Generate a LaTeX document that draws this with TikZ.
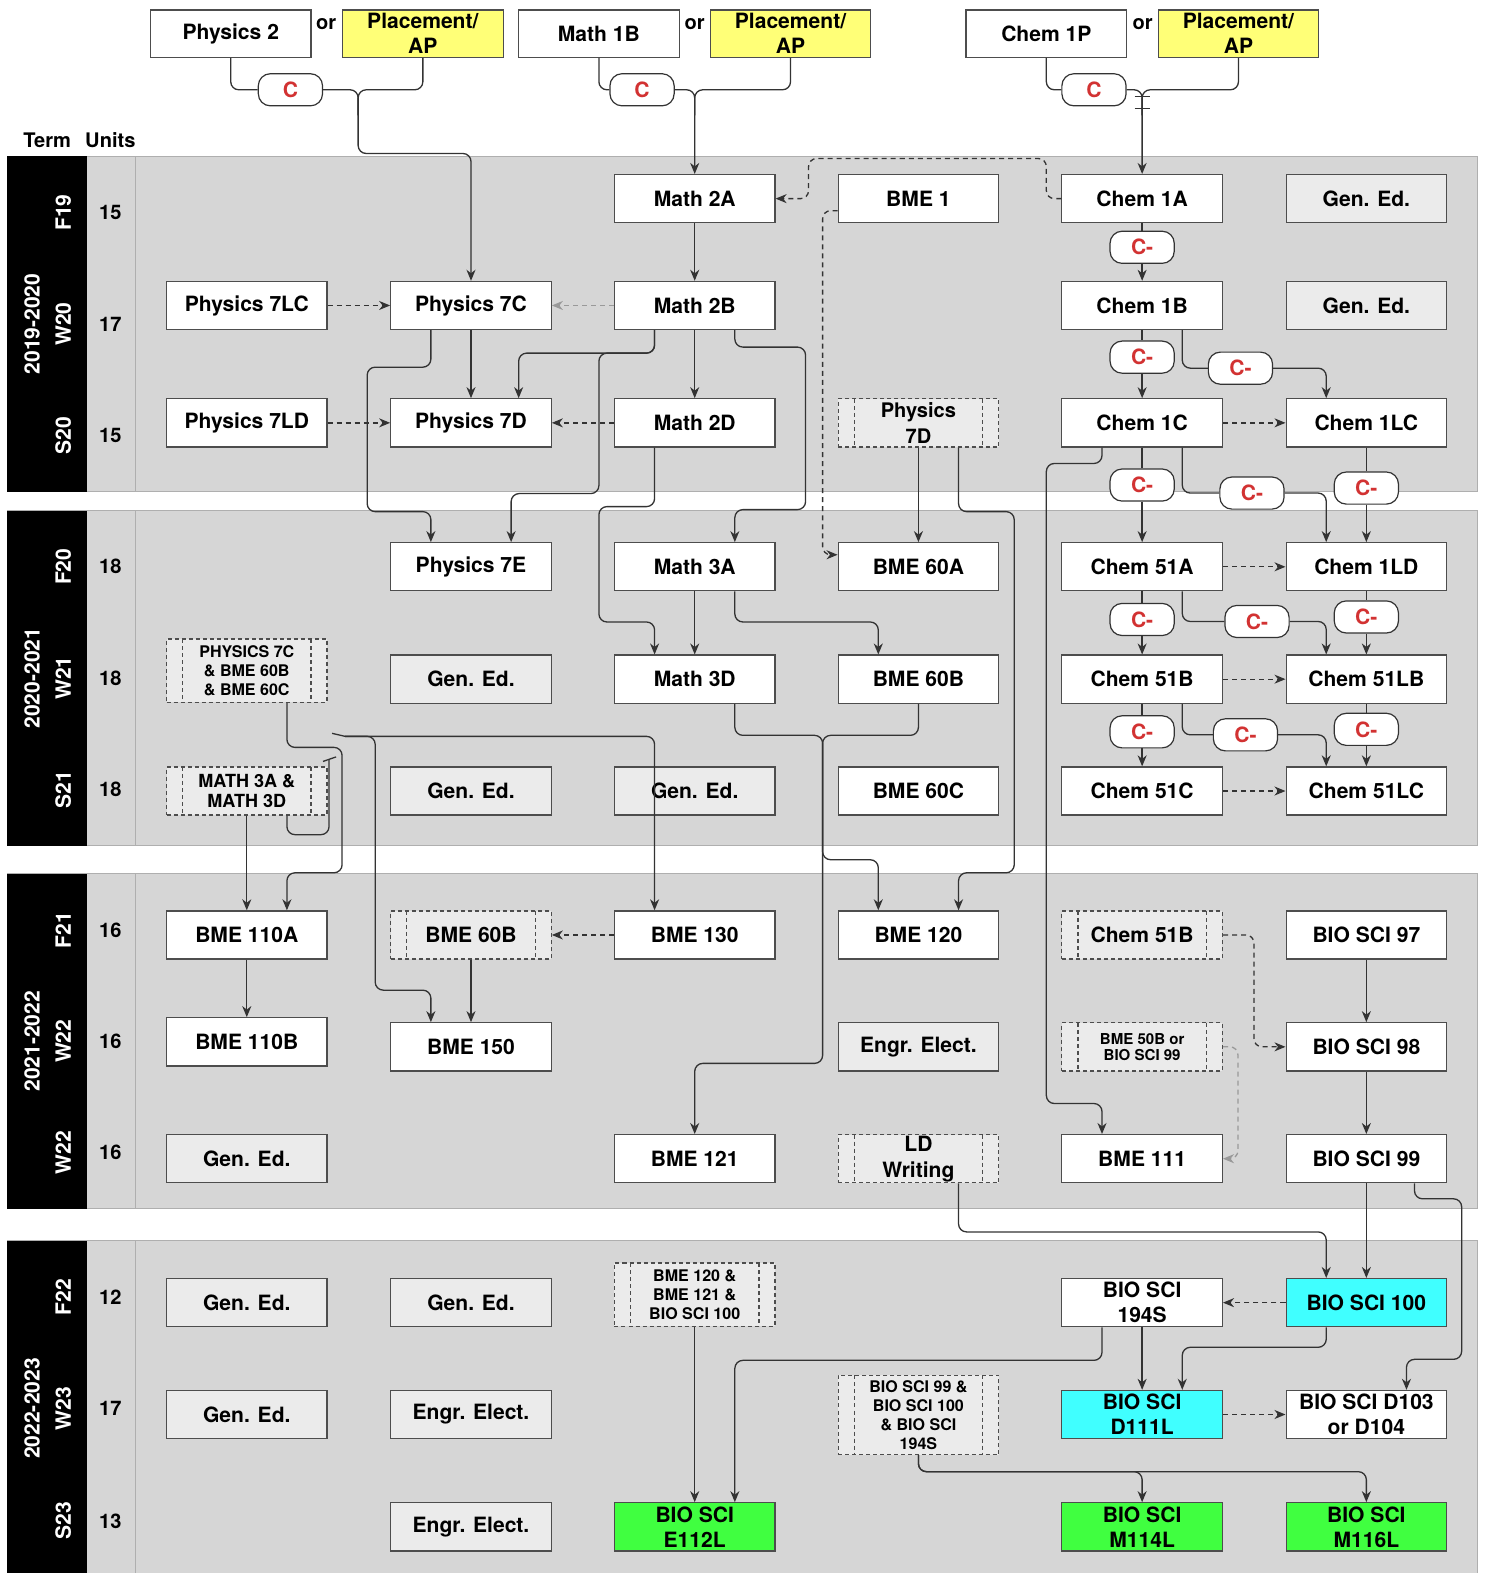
\documentclass[tikz,border=0pt]{standalone}
\usepackage{fontspec}
\setmainfont{TeX Gyre Heros}
\usetikzlibrary{arrows.meta}
\definecolor{bandgray}{HTML}{D6D6D6}
\definecolor{lightbox}{HTML}{EBEBEB}
\definecolor{bordergray}{HTML}{4D4D4D}
\definecolor{linegray}{HTML}{333333}
\definecolor{yel}{HTML}{FFFF77}
\definecolor{cyanbox}{HTML}{40FFFF}
\definecolor{greenbox}{HTML}{40FF40}
\definecolor{redtext}{HTML}{D23232}
\definecolor{bandline}{HTML}{AFAFAF}
\begin{document}
\begin{tikzpicture}[x=1pt,y=-1pt,
  box/.style={draw=bordergray,line width=1.2pt,fill=white,minimum width=160pt,minimum height=48pt,inner sep=0pt,align=center,font=\fontsize{21}{25}\selectfont\bfseries},
  genbox/.style={box,fill=lightbox},
  dbox/.style={box,fill=lightbox,dash pattern=on 4pt off 3pt,
    path picture={\draw[bordergray,line width=1.2pt,dash pattern=on 4pt off 3pt]
      ([xshift=16pt]path picture bounding box.north west) -- ([xshift=16pt]path picture bounding box.south west)
      ([xshift=-16pt]path picture bounding box.north east) -- ([xshift=-16pt]path picture bounding box.south east);}},
  pill/.style={draw=linegray,line width=1.2pt,fill=white,rounded corners=12pt,minimum width=64pt,minimum height=32pt,inner sep=0pt,text=redtext,font=\fontsize{21}{25}\selectfont\bfseries},
  lbl/.style={inner sep=0pt,font=\fontsize{20}{24}\selectfont\bfseries},
  term/.style={inner sep=0pt,text=white,rotate=90,font=\fontsize{21}{24}\selectfont\bfseries},
  ln/.style={draw=linegray,line width=1.3pt,rounded corners=8pt},
  arr/.style={-{Stealth[length=11pt,width=9pt,inset=3.5pt]}},
  dsh/.style={dash pattern=on 5pt off 4pt},
  gln/.style={draw=black!40,line width=1.3pt,rounded corners=8pt}
]
\useasboundingbox (0,0) rectangle (1480,1568);
\fill[white] (0,0) rectangle (1480,1568);

% bands
\foreach \t/\b in {156/490,509/843,871/1205,1237/1572}{
  \filldraw[fill=bandgray,draw=bandline,line width=1pt] (7,\t) rectangle (1473,\b);
  \fill[black] (7,\t) rectangle (87,\b);
  \draw[bandline,line width=1pt] (135,\t) -- (135,\b);
}
\node[lbl] (hterm) at (47,140) {Term};
\node[lbl] (hunits) at (110,140) {Units};

\node[term] (y1) at (32,323) {2019-2020};
\node[term] (y2) at (32,676) {2020-2021};
\node[term] (y3) at (32,1038) {2021-2022};
\node[term] (y4) at (32,1404) {2022-2023};

\node[term] (t1) at (63,212) {F19};
\node[term] (t2) at (63,323) {W20};
\node[term] (t3) at (63,434) {S20};
\node[term] (t4) at (63,565) {F20};
\node[term] (t5) at (63,676) {W21};
\node[term] (t6) at (63,787) {S21};
\node[term] (t7) at (63,927) {F21};
\node[term] (t8) at (63,1038) {W22};
\node[term] (t9) at (63,1149) {W22};
\node[term] (t10) at (63,1293) {F22};
\node[term] (t11) at (63,1404) {W23};
\node[term] (t12) at (63,1516) {S23};

\node[lbl] (u1) at (110,212) {15};
\node[lbl] (u2) at (110,323) {17};
\node[lbl] (u3) at (110,434) {15};
\node[lbl] (u4) at (110,565) {18};
\node[lbl] (u5) at (110,676) {18};
\node[lbl] (u6) at (110,787) {18};
\node[lbl] (u7) at (110,927) {16};
\node[lbl] (u8) at (110,1038) {16};
\node[lbl] (u9) at (110,1149) {16};
\node[lbl] (u10) at (110,1293) {12};
\node[lbl] (u11) at (110,1404) {17};
\node[lbl] (u12) at (110,1516) {13};

% top prerequisites
\node[box,minimum height=47pt] (phys2) at (230,33.5) {Physics 2};
\node[lbl] (or1) at (325,24) {or};
\node[box,fill=yel,minimum height=47pt] (yel1) at (421.5,33.5) {Placement/\\AP};
\node[box,minimum height=47pt] (math1b) at (597,33.5) {Math 1B};
\node[lbl] (or2) at (692.5,24) {or};
\node[box,fill=yel,minimum height=47pt] (yel2) at (788,33.5) {Placement/\\AP};
\node[box,minimum height=47pt] (chem1p) at (1043,33.5) {Chem 1P};
\node[lbl] (or3) at (1139,24) {or};
\node[box,fill=yel,minimum height=47pt] (yel3) at (1234.5,33.5) {Placement/\\AP};
\node[pill] (pa) at (289.5,89.5) {C};
\node[pill] (pb) at (640,89.5) {C};
\node[pill] (pc) at (1090.5,89.5) {C};

% row 1
\node[box] (m2a) at (692.5,198) {Math 2A};
\node[box] (bme1) at (915.5,198) {BME 1};
\node[box] (c1a) at (1138.5,198) {Chem 1A};
\node[genbox] (ge1) at (1362,198) {Gen. Ed.};
% row 2
\node[box] (p7lc) at (246,304.5) {Physics 7LC};
\node[box] (p7c) at (469.5,304.5) {Physics 7C};
\node[box] (m2b) at (692.5,304.5) {Math 2B};
\node[box] (c1b) at (1138.5,304.5) {Chem 1B};
\node[genbox] (ge2) at (1362,304.5) {Gen. Ed.};
% row 3
\node[box] (p7ld) at (246,421.5) {Physics 7LD};
\node[box] (p7d) at (469.5,421.5) {Physics 7D};
\node[box] (m2d) at (692.5,421.5) {Math 2D};
\node[dbox,font=\fontsize{20}{26}\selectfont\bfseries] (p7dd) at (915.5,421.5) {Physics\\7D};
\node[box] (c1c) at (1138.5,421.5) {Chem 1C};
\node[box] (c1lc) at (1362,421.5) {Chem 1LC};
% row 4
\node[box] (p7e) at (469.5,565) {Physics 7E};
\node[box] (m3a) at (692.5,565) {Math 3A};
\node[box] (b60a) at (915.5,565) {BME 60A};
\node[box] (c51a) at (1138.5,565) {Chem 51A};
\node[box] (c1ld) at (1362,565) {Chem 1LD};
% row 5
\node[dbox,minimum height=63pt,font=\fontsize{16}{19}\selectfont\bfseries] (pxd) at (246,668.5) {PHYSICS 7C\\\& BME 60B\\\& BME 60C};
\node[genbox] (ge3) at (469.5,677) {Gen. Ed.};
\node[box] (m3d) at (692.5,677) {Math 3D};
\node[box] (b60b) at (915.5,677) {BME 60B};
\node[box] (c51b) at (1138.5,677) {Chem 51B};
\node[box] (c51lb) at (1362,677) {Chem 51LB};
% row 6
\node[dbox,font=\fontsize{18}{20}\selectfont\bfseries] (m3ad) at (246,788.5) {MATH 3A \&\\MATH 3D};
\node[genbox] (ge4) at (469.5,788.5) {Gen. Ed.};
\node[genbox] (ge5) at (692.5,788.5) {Gen. Ed.};
\node[box] (b60c) at (915.5,788.5) {BME 60C};
\node[box] (c51c) at (1138.5,788.5) {Chem 51C};
\node[box] (c51lc) at (1362,788.5) {Chem 51LC};
% row 7
\node[box] (b110a) at (246,932) {BME 110A};
\node[dbox] (b60bd) at (469.5,932) {BME 60B};
\node[box] (b130) at (692.5,932) {BME 130};
\node[box] (b120) at (915.5,932) {BME 120};
\node[dbox] (c51bd) at (1138.5,932) {Chem 51B};
\node[box] (bs97) at (1362,932) {BIO SCI 97};
% row 8
\node[box] (b110b) at (246,1038.5) {BME 110B};
\node[box] (b150) at (469.5,1043.5) {BME 150};
\node[genbox] (ee1) at (915.5,1043.5) {Engr. Elect.};
\node[dbox,font=\fontsize{15}{16}\selectfont\bfseries] (b50d) at (1138.5,1043.5) {BME 50B or\\BIO SCI 99};
\node[box] (bs98) at (1362,1043.5) {BIO SCI 98};
% row 9
\node[genbox] (ge6) at (246,1155) {Gen. Ed.};
\node[box] (b121) at (692.5,1155) {BME 121};
\node[dbox,font=\fontsize{21}{26}\selectfont\bfseries] (ldw) at (915.5,1155) {LD\\Writing};
\node[box] (b111) at (1138.5,1155) {BME 111};
\node[box] (bs99) at (1362,1155) {BIO SCI 99};
% row 10
\node[genbox] (ge7) at (246,1298.5) {Gen. Ed.};
\node[genbox] (ge8) at (469.5,1298.5) {Gen. Ed.};
\node[dbox,minimum height=63pt,font=\fontsize{16}{19}\selectfont\bfseries] (b120d) at (692.5,1290.5) {BME 120 \&\\BME 121 \&\\BIO SCI 100};
\node[box] (bs194) at (1138.5,1298.5) {BIO SCI\\194S};
\node[box,fill=cyanbox] (bs100) at (1362,1298.5) {BIO SCI 100};
% row 11
\node[genbox] (ge9) at (246,1410) {Gen. Ed.};
\node[genbox] (ee2) at (469.5,1410) {Engr. Elect.};
\node[dbox,minimum height=79pt,font=\fontsize{16}{18.7}\selectfont\bfseries] (bsd) at (915.5,1410.5) {BIO SCI 99 \&\\BIO SCI 100\\\& BIO SCI\\194S};
\node[box,fill=cyanbox] (d111) at (1138.5,1410) {BIO SCI\\D111L};
\node[box] (d103) at (1362,1410) {BIO SCI D103\\or D104};
% row 12
\node[genbox] (ee3) at (469.5,1522) {Engr. Elect.};
\node[box,fill=greenbox] (e112) at (692.5,1522) {BIO SCI\\E112L};
\node[box,fill=greenbox] (m114) at (1138.5,1522) {BIO SCI\\M114L};
\node[box,fill=greenbox] (m116) at (1362,1522) {BIO SCI\\M116L};

% chem pills
\node[pill] (k1) at (1138.5,246.5) {C-};
\node[pill] (k2) at (1138.5,356) {C-};
\node[pill] (k3) at (1236.5,367) {C-};
\node[pill] (k4) at (1138.5,483.5) {C-};
\node[pill] (k5) at (1248,491.5) {C-};
\node[pill] (k6) at (1362,486.5) {C-};
\node[pill] (k7) at (1138.5,617.5) {C-};
\node[pill] (k8) at (1253,619.5) {C-};
\node[pill] (k9) at (1362,615) {C-};
\node[pill] (k10) at (1138.5,729.5) {C-};
\node[pill] (k11) at (1241.5,732.5) {C-};
\node[pill] (k12) at (1362,727) {C-};

% ---------- connectors ----------
% top
\draw[ln] (phys2.south) |- (pa.west);
\draw[ln,arr] (pa.east) -- (357,89.5) -- (357,153) -- (469.5,153) -- (p7c.north);
\draw[ln] (yel1.south) -- (421.5,89.5) -- (357,89.5) -- (357,115);
\draw[ln] (math1b.south) |- (pb.west);
\draw[ln,arr] (pb.east) -- (692.5,89.5) -- (m2a.north);
\draw[ln] (yel2.south) -- (788,89.5) -- (692.5,89.5) -- (692.5,115);
\draw[ln] (chem1p.south) |- (pc.west);
\draw[ln,arr] (pc.east) -- (1138.5,89.5) -- (c1a.north);
\draw[ln] (yel3.south) -- (1234.5,89.5) -- (1138.5,89.5) -- (1138.5,115);
\coordinate (tk1a) at (1131,96.5); \coordinate (tk1b) at (1146,96.5);
\coordinate (tk2a) at (1131,108.5); \coordinate (tk2b) at (1146,108.5);
\draw[linegray,line width=1.3pt] (tk1a) -- (tk1b) (tk2a) -- (tk2b);

% dashed corequisites
\draw[ln,dsh,arr] (c1a.west) -- (1043,198) -- (1043,158) -- (806,158) -- (806,198) -- (m2a.east);
\draw[ln,dsh,arr] ([yshift=-12pt]bme1.west) -- (820,210) -- (820,553) -- ([yshift=12pt]b60a.west);
\draw[ln,dsh,arr] (p7lc.east) -- (p7c.west);
\draw[gln,dsh,arr] (m2b.west) -- (p7c.east);
\draw[ln,dsh,arr] (p7ld.east) -- (p7d.west);
\draw[ln,dsh,arr] (m2d.west) -- (p7d.east);

% math / physics
\draw[ln,arr] (m2a.south) -- (m2b.north);
\draw[ln,arr] (m2b.south) -- (m2d.north);
\draw[ln,arr] (p7c.south) -- (p7d.north);
\draw[ln,arr] ([xshift=-40pt]m2b.south) -- (652.5,352) -- (517,352) -- ([xshift=47.5pt]p7d.north);
\draw[ln,arr] ([xshift=-40pt]m2b.south) -- (652.5,352) -- (597,352) -- (597,492) -- (509.5,492) -- ([xshift=40pt]p7e.north);
\draw[ln,arr] ([xshift=-40pt]m2d.south) -- (652.5,505) -- (597,505) -- (597,620) -- (652.5,620) -- ([xshift=-40pt]m3d.north);
\draw[ln,arr] ([xshift=-40pt]p7c.south) -- (429.5,366) -- (366,366) -- (366,510) -- (429.5,510) -- ([xshift=-40pt]p7e.north);
\draw[ln,arr] ([xshift=40pt]m2b.south) -- (732.5,346) -- (803,346) -- (803,508) -- (732.5,508) -- ([xshift=40pt]m3a.north);
\draw[ln,arr] (m3a.south) -- (m3d.north);
\draw[ln,arr] ([xshift=40pt]m3a.south) -- (732.5,620) -- (875.5,620) -- ([xshift=-40pt]b60b.north);
\draw[ln,arr] (p7dd.south) -- (b60a.north);
\draw[ln,arr] ([xshift=40pt]p7dd.south) -- (955.5,510) -- (1011,510) -- (1011,870) -- (955.5,870) -- ([xshift=40pt]b120.north);
\draw[ln,arr] (b60b.south) -- (915.5,733) -- (820,733) -- (820,857) -- (875.5,857) -- ([xshift=-40pt]b120.north);
\draw[ln,arr] ([xshift=40pt]m3d.south) -- (732.5,733) -- (820,733) -- (820,1060) -- (692.5,1060) -- (b121.north);

% left column
\draw[ln,arr] ([xshift=40pt]pxd.south) -- (286,745) -- (341,745) -- (341,870) -- (286,870) -- ([xshift=40pt]b110a.north);
\draw[ln,arr] (m3ad.south) -- (b110a.north);
\coordinate (stubA) at (328,757);
\draw[ln] ([xshift=40pt]m3ad.south) -- (286,832) -- (328,832) -- (stubA);
\draw[linegray,line width=1.3pt] (322,759) -- (335,754.5);
\coordinate (stubB) at (344,734);
\draw[linegray,line width=1.3pt] (331,731) -- (stubB);
\draw[ln,arr] (stubB) -- (652.5,734) -- ([xshift=-40pt]b130.north);
\draw[ln,arr] (stubB) -- (374,734) -- (374,987) -- (429.5,987) -- ([xshift=-40pt]b150.north);
\draw[ln,arr] (b110a.south) -- (b110b.north);
\draw[ln,dsh,arr] (b130.west) -- (b60bd.east);
\draw[ln,arr] (b60bd.south) -- (b150.north);

% chem
\draw[ln] (c1a.south) -- (k1.north);
\draw[ln,arr] (k1.south) -- (c1b.north);
\draw[ln] (c1b.south) -- (k2.north);
\draw[ln,arr] (k2.south) -- (c1c.north);
\draw[ln] ([xshift=40pt]c1b.south) |- (k3.west);
\draw[ln,arr] (k3.east) -| ([xshift=-40pt]c1lc.north);
\draw[ln,dsh,arr] (c1c.east) -- (c1lc.west);
\draw[ln] (c1c.south) -- (k4.north);
\draw[ln,arr] (k4.south) -- (c51a.north);
\draw[ln] ([xshift=40pt]c1c.south) |- (k5.west);
\draw[ln,arr] (k5.east) -| ([xshift=-40pt]c1ld.north);
\draw[ln] (c1lc.south) -- (k6.north);
\draw[ln,arr] (k6.south) -- (c1ld.north);
\draw[ln,dsh,arr] (c51a.east) -- (c1ld.west);
\draw[ln] (c51a.south) -- (k7.north);
\draw[ln,arr] (k7.south) -- (c51b.north);
\draw[ln] ([xshift=40pt]c51a.south) |- (k8.west);
\draw[ln,arr] (k8.east) -| ([xshift=-40pt]c51lb.north);
\draw[ln] (c1ld.south) -- (k9.north);
\draw[ln,arr] (k9.south) -- (c51lb.north);
\draw[ln,dsh,arr] (c51b.east) -- (c51lb.west);
\draw[ln] (c51b.south) -- (k10.north);
\draw[ln,arr] (k10.south) -- (c51c.north);
\draw[ln] ([xshift=40pt]c51b.south) |- (k11.west);
\draw[ln,arr] (k11.east) -| ([xshift=-40pt]c51lc.north);
\draw[ln] (c51lb.south) -- (k12.north);
\draw[ln,arr] (k12.south) -- (c51lc.north);
\draw[ln,dsh,arr] (c51c.east) -- (c51lc.west);
\draw[ln,arr] ([xshift=-40pt]c1c.south) -- (1098.5,462) -- (1043,462) -- (1043,1100) -- (1098.5,1100) -- ([xshift=-40pt]b111.north);

% bio sci
\draw[ln,dsh,arr] (c51bd.east) -- (1250,932) -- (1250,1043.5) -- (bs98.west);
\draw[gln,dsh,arr] (b50d.east) -- (1234,1043.5) -- (1234,1155) -- (b111.east);
\draw[ln,arr] (bs97.south) -- (bs98.north);
\draw[ln,arr] (bs98.south) -- (bs99.north);
\draw[ln,arr] (bs99.south) -- (bs100.north);
\draw[ln,arr] ([xshift=48pt]bs99.south) -- (1410,1195) -- (1457,1195) -- (1457,1355) -- (1402,1355) -- ([xshift=40pt]d103.north);
\draw[ln,arr] ([xshift=40pt]ldw.south) -- (955.5,1228) -- (1322,1228) -- ([xshift=-40pt]bs100.north);
\draw[ln,dsh,arr] (bs100.west) -- (bs194.east);
\draw[ln,arr] (bs194.south) -- (d111.north);
\draw[ln,arr] ([xshift=-40pt]bs100.south) -- (1322,1343) -- (1178.5,1343) -- ([xshift=40pt]d111.north);
\draw[ln,arr] ([xshift=-40pt]bs194.south) -- (1098.5,1356) -- (732.5,1356) -- ([xshift=40pt]e112.north);
\draw[ln,arr] (b120d.south) -- (e112.north);
\draw[ln,dsh,arr] (d111.east) -- (d103.west);
\draw[ln,arr] (bsd.south) -- (915.5,1467) -- (1138.5,1467) -- (m114.north);
\draw[ln,arr] (bsd.south) -- (915.5,1467) -- (1362,1467) -- (m116.north);
\end{tikzpicture}
\end{document}
